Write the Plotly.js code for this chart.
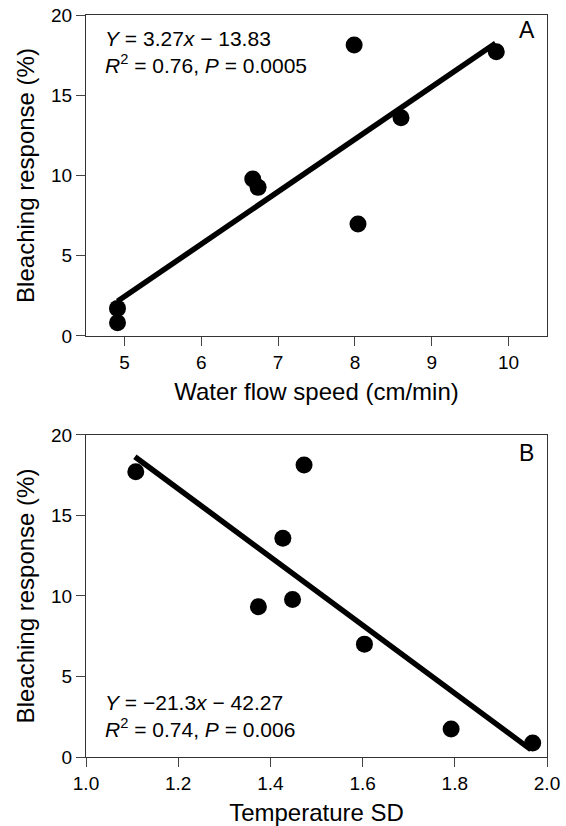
<!DOCTYPE html>
<html>
<head>
<meta charset="utf-8">
<script src="https://cdn.plot.ly/plotly-3.0.1.min.js"></script>
<style>html,body{margin:0;padding:0;background:#fff;}#chart{width:566px;height:826px;}</style>
</head>
<body>
<div id="chart"></div>
<script>
// Panel A: water flow speed vs bleaching response
const flowSpeed = [4.91, 4.91, 6.67, 6.74, 7.99, 8.04, 8.60, 9.84];
const bleachA   = [1.72, 0.83, 9.78, 9.26, 18.13, 6.98, 13.60, 17.71];
const fitAx = [4.91, 9.83];
const fitAy = [2.16, 18.24];

// Panel B: temperature SD vs bleaching response
const tempSD  = [1.108, 1.473, 1.427, 1.374, 1.448, 1.604, 1.792, 1.969];
const bleachB = [17.72, 18.13, 13.58, 9.33, 9.78, 7.01, 1.74, 0.87];
const fitBx = [1.106, 1.965];
const fitBy = [18.65, 0.46];

const xTicksA = [5, 6, 7, 8, 9, 10];
const xTicksB = [1.0, 1.2, 1.4, 1.6, 1.8, 2.0];
const xTickTextB = ['1.0', '1.2', '1.4', '1.6', '1.8', '2.0'];
const yTicks = [0, 5, 10, 15, 20];

const FONT = '"Liberation Sans", Arial, Helvetica, sans-serif';

const traces = [
  {x: fitAx, y: fitAy, mode: 'lines', line: {color: '#000', width: 5.5}, xaxis: 'x', yaxis: 'y', hoverinfo: 'skip'},
  {x: flowSpeed, y: bleachA, mode: 'markers', marker: {color: '#000', size: 17}, xaxis: 'x', yaxis: 'y'},
  {x: fitBx, y: fitBy, mode: 'lines', line: {color: '#000', width: 5.5}, xaxis: 'x2', yaxis: 'y2', hoverinfo: 'skip'},
  {x: tempSD, y: bleachB, mode: 'markers', marker: {color: '#000', size: 17}, xaxis: 'x2', yaxis: 'y2'}
];

const axBase = {
  showgrid: false, zeroline: false, showline: true, mirror: true,
  linecolor: '#333', linewidth: 1,
  ticks: 'outside', ticklen: 9, tickwidth: 1, tickcolor: '#444',
  tickfont: {family: FONT, size: 19, color: '#000'}
};

const layout = {
  width: 566, height: 826,
  margin: {l: 86, r: 19, t: 15, b: 69},
  paper_bgcolor: '#fff', plot_bgcolor: '#fff',
  showlegend: false,
  font: {family: FONT, color: '#000'},
  xaxis: Object.assign({}, axBase, {
    domain: [0, 1], anchor: 'y', range: [4.5, 10.5],
    tickvals: xTicksA,
    title: {text: 'Water flow speed (cm/min)', font: {family: FONT, size: 24, color: '#000'}, standoff: 11}
  }),
  yaxis: Object.assign({}, axBase, {
    domain: [0.5674, 1], anchor: 'x', range: [0, 20],
    tickvals: yTicks,
    title: {text: 'Bleaching response (%)', font: {family: FONT, size: 24, color: '#000'}, standoff: 9}
  }),
  xaxis2: Object.assign({}, axBase, {
    domain: [0, 1], anchor: 'y2', range: [1, 2],
    tickvals: xTicksB, ticktext: xTickTextB,
    title: {text: 'Temperature SD', font: {family: FONT, size: 24, color: '#000'}, standoff: 11}
  }),
  yaxis2: Object.assign({}, axBase, {
    domain: [0, 0.434], anchor: 'x2', range: [0, 20],
    tickvals: yTicks,
    title: {text: 'Bleaching response (%)', font: {family: FONT, size: 24, color: '#000'}, standoff: 9}
  }),
  annotations: [
    {xref: 'paper', yref: 'paper', x: 0.0369, y: 0.9495, xanchor: 'left', yanchor: 'middle', align: 'left', showarrow: false,
     text: '<i>Y</i> = 3.27<i>x</i> \u2212 13.83<br><i>R</i><sup>2</sup> = 0.76, <i>P</i> = 0.0005',
     font: {family: FONT, size: 21, color: '#000'}},
    {xref: 'paper', yref: 'paper', x: 0.9566, y: 0.9798, xanchor: 'center', yanchor: 'middle', showarrow: false,
     text: 'A', font: {family: FONT, size: 23, color: '#000'}},
    {xref: 'paper', yref: 'paper', x: 0.0369, y: 0.0546, xanchor: 'left', yanchor: 'middle', align: 'left', showarrow: false,
     text: '<i>Y</i> = \u221221.3<i>x</i> \u2212 42.27<br><i>R</i><sup>2</sup> = 0.74, <i>P</i> = 0.006',
     font: {family: FONT, size: 21, color: '#000'}},
    {xref: 'paper', yref: 'paper', x: 0.9566, y: 0.4097, xanchor: 'center', yanchor: 'middle', showarrow: false,
     text: 'B', font: {family: FONT, size: 23, color: '#000'}}
  ]
};

Plotly.newPlot('chart', traces, layout, {displayModeBar: false, staticPlot: true});
</script>
</body>
</html>
